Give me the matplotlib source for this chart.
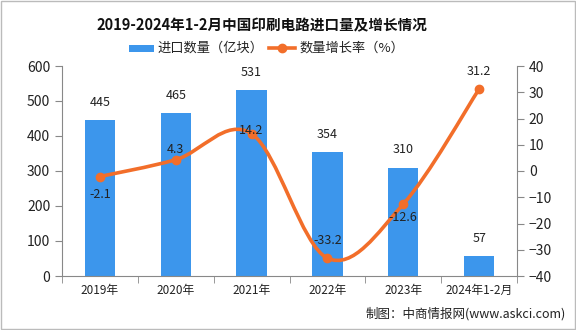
import matplotlib
matplotlib.use("Agg")
import matplotlib.pyplot as plt
from matplotlib.path import Path
from matplotlib.patches import PathPatch, Rectangle
import numpy as np

plt.rcParams['font.family'] = ['Noto Sans CJK SC', 'DejaVu Sans']

categories = ['2019年', '2020年', '2021年', '2022年', '2023年', '2024年1-2月']
volume = [445, 465, 531, 354, 310, 57]
growth = [-2.1, 4.3, 14.2, -33.2, -12.6, 31.2]
growth_label_offsets = [-13, 7, 2, 13, -10, 13]  # points

BAR_C = '#3C96EC'
LINE_C = '#F26E2A'

fig = plt.figure(figsize=(5.76, 3.30), dpi=100)
ax = fig.add_axes([62/576, 1-276/330, (517-62)/576, (276-66)/330])
ax2 = ax.twinx()

x = np.arange(len(categories))
ax.bar(x, volume, width=0.4, color=BAR_C, zorder=2)
for xi, v in zip(x, volume):
    ax.annotate(str(v), (xi, v), xytext=(0, 8), textcoords='offset points',
                ha='center', va='bottom', fontsize=9, color='#222222')

ax.set_xlim(-0.5, len(categories)-0.5)
ax.set_ylim(0, 600)
ax.set_yticks(range(0, 601, 100))
ax2.set_ylim(-40, 40)
ax2.set_yticks(range(-40, 41, 10))

# smooth curve through points (Catmull-Rom as cubic Bezier)
pts = np.column_stack([x, growth]).astype(float)
t = 0.17
verts = [tuple(pts[0])]
codes = [Path.MOVETO]
n = len(pts)
for i in range(n-1):
    p0 = pts[i-1] if i > 0 else pts[i]
    p1 = pts[i]
    p2 = pts[i+1]
    p3 = pts[i+2] if i+2 < n else pts[i+1]
    c1 = p1 + (p2 - p0) * t
    c2 = p2 - (p3 - p1) * t
    verts += [tuple(c1), tuple(c2), tuple(p2)]
    codes += [Path.CURVE4]*3
path = Path(verts, codes)
ax2.add_patch(PathPatch(path, facecolor='none', edgecolor=LINE_C, lw=2.6, zorder=3))
ax2.plot(x, growth, 'o', color=LINE_C, ms=6, zorder=4)
for xi, g, off in zip(x, growth, growth_label_offsets):
    ax2.annotate(f'{g}', (xi, g), xytext=(0, off), textcoords='offset points',
                 ha='center', va='center', fontsize=9, color='#222222', zorder=5)

# x ticks at category boundaries
ax.set_xticks(x)
ax.set_xticklabels(categories, fontsize=8.5, color='#222222')
ax.tick_params(axis='x', length=0, pad=6)
ax.set_xticks(np.arange(-0.5, len(categories), 1), minor=True)
ax.tick_params(axis='x', which='minor', length=5, color='#888888')

for a in (ax, ax2):
    for s in a.spines.values():
        s.set_color('#888888')
    a.spines['top'].set_visible(False)
ax.spines['right'].set_visible(False)
ax2.spines['left'].set_visible(False)
ax2.spines['bottom'].set_visible(False)
ax.tick_params(axis='y', labelsize=10, colors='#222222', color='#888888', length=5)
ax2.tick_params(axis='y', labelsize=10, colors='#222222', color='#888888', length=5)
ax.set_zorder(ax2.get_zorder()-1)
ax2.patch.set_visible(False)

# title & legend
fig.text(0.455, 1-25/330, '2019-2024年1-2月中国印刷电路进口量及增长情况', ha='center', va='center',
         fontsize=10.5, fontweight='bold', color='#111111')
fig.patches.append(Rectangle((129/576, 1-52/330), 25/576, 7/330, transform=fig.transFigure,
                             facecolor=BAR_C, edgecolor='none'))
fig.text(157/576, 1-48/330, '进口数量（亿块）', ha='left', va='center', fontsize=9.5, color='#222222')
fig.lines.append(plt.Line2D([269/576, 295/576], [1-48/330, 1-48/330], transform=fig.transFigure,
                            color=LINE_C, lw=2.6))
fig.lines.append(plt.Line2D([282/576], [1-48/330], transform=fig.transFigure, marker='o',
                            color=LINE_C, ms=6))
fig.text(299/576, 1-48/330, '数量增长率（%）', ha='left', va='center', fontsize=9.5, color='#222222')

fig.text(566/576, 1-314/330, '制图：中商情报网(www.askci.com)', ha='right', va='center',
         fontsize=9, color='#222222')

fig.patches.append(Rectangle((0.001, 0.002), 0.997, 0.995, transform=fig.transFigure,
                             facecolor='none', edgecolor='#BBBBBB', lw=1))

fig.savefig('out.png', dpi=100)
